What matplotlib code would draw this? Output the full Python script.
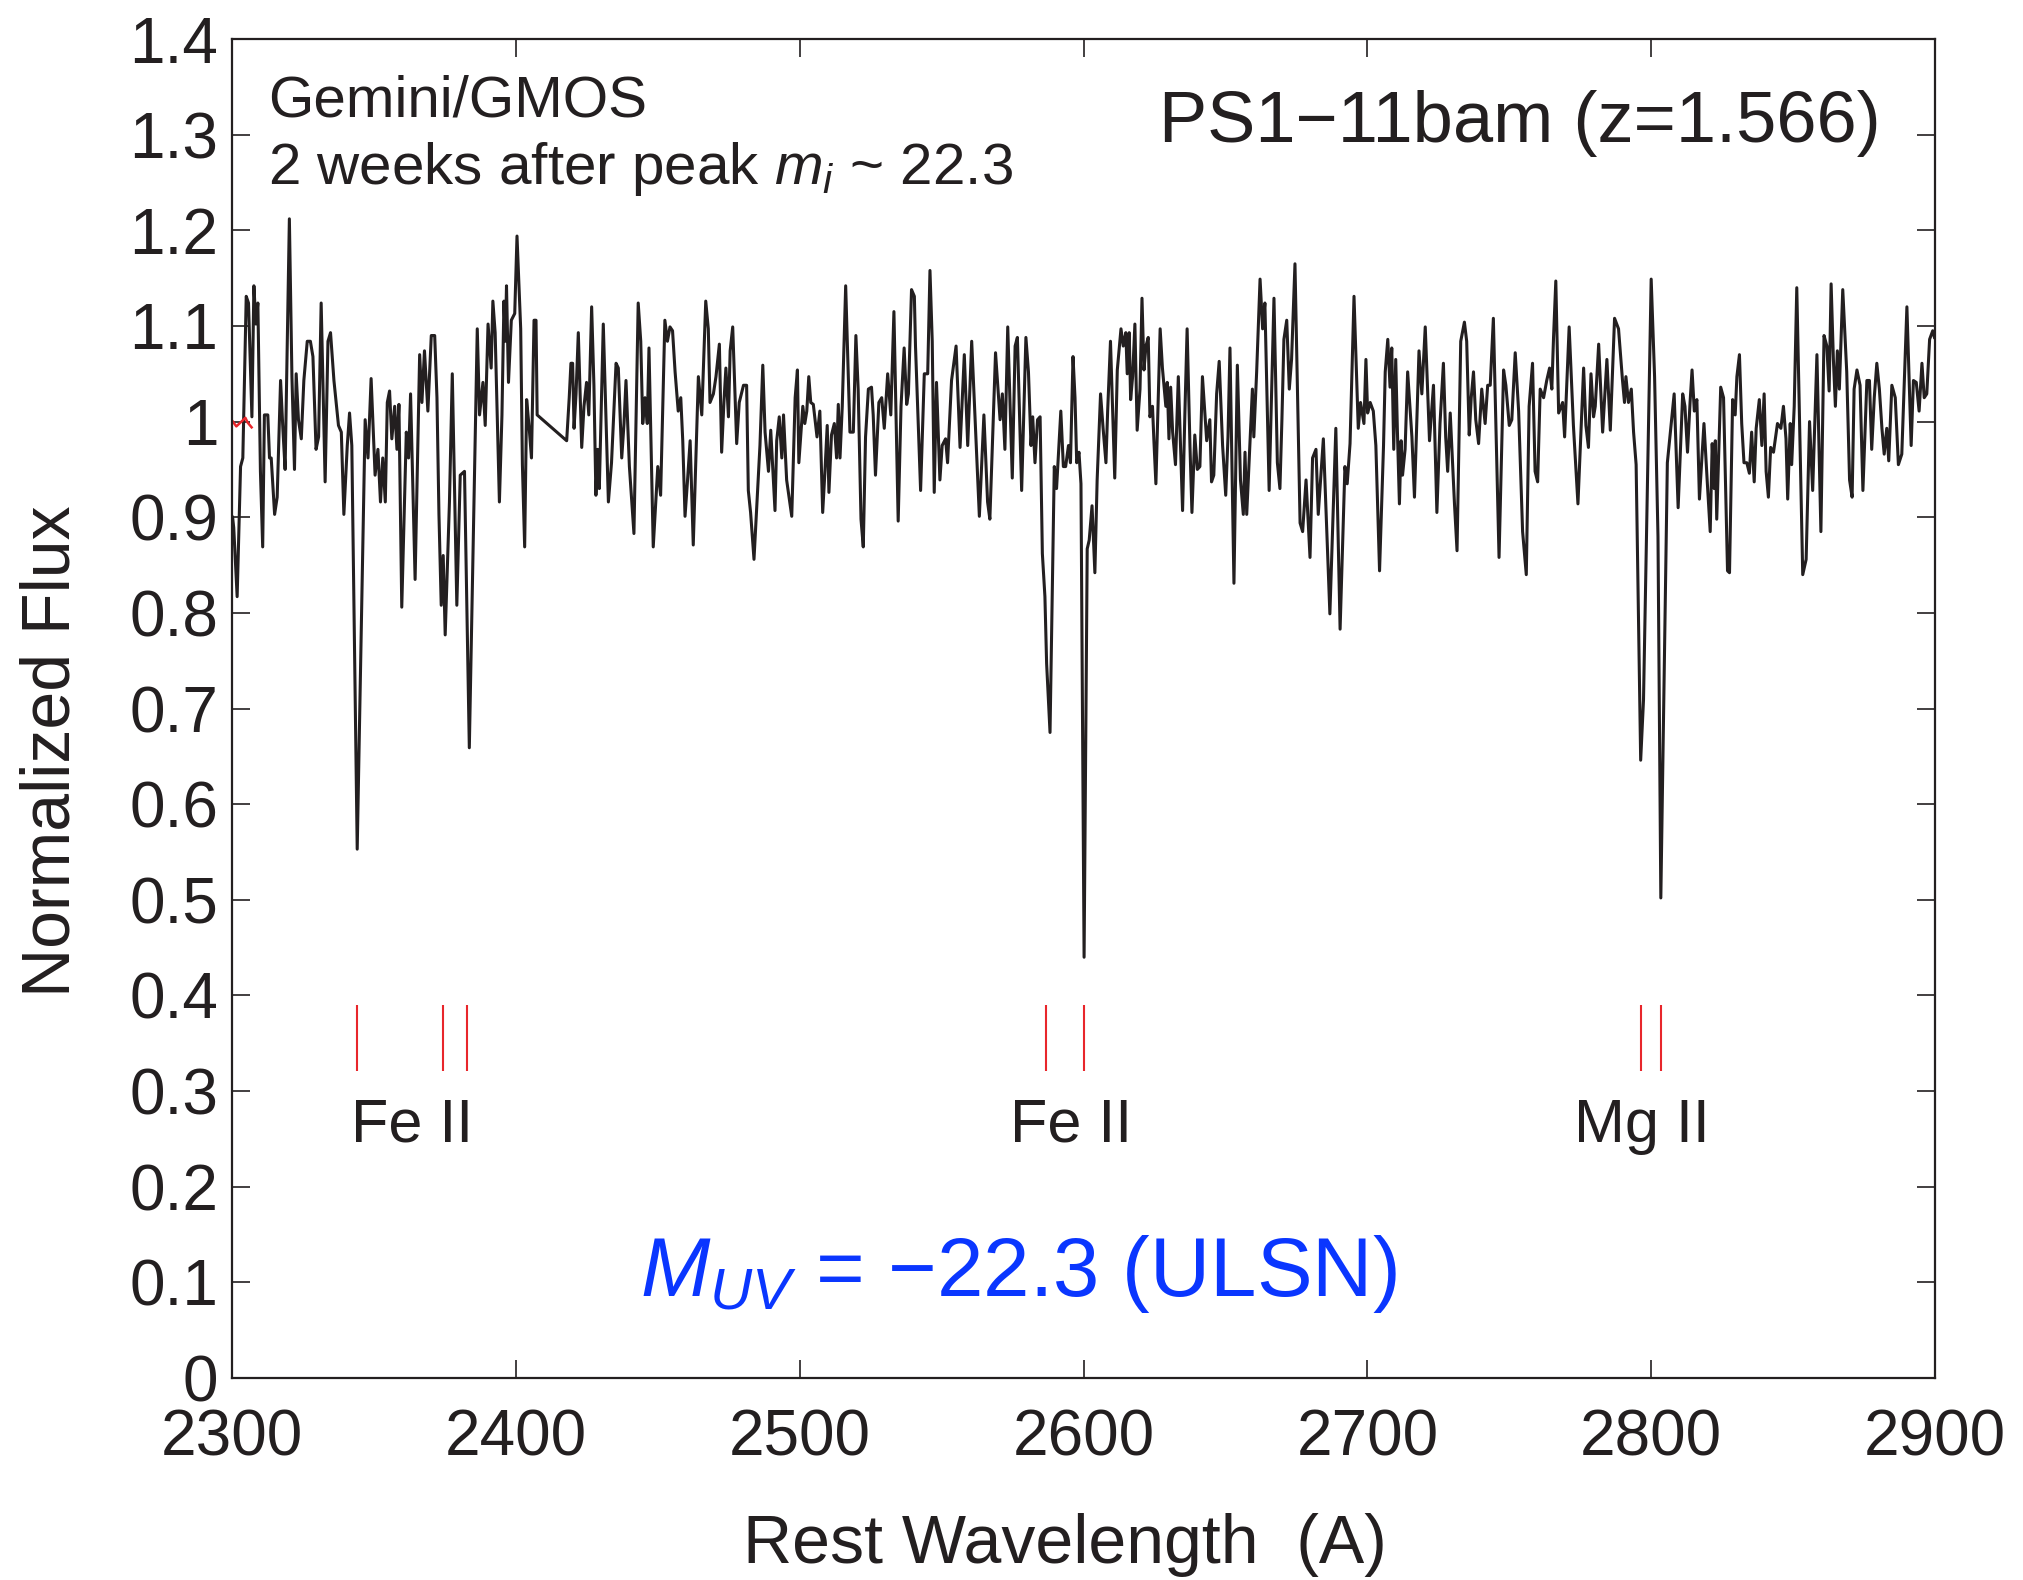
import numpy as np
import matplotlib
matplotlib.use("Agg")
from matplotlib import pyplot as plt

plt.rcParams['font.family'] = ['Liberation Sans', 'DejaVu Sans']
plt.rcParams['mathtext.fontset'] = 'custom'
plt.rcParams['mathtext.rm'] = 'Liberation Sans'
plt.rcParams['mathtext.it'] = 'Liberation Sans:italic'

# spectrum, in 100 A blocks
wave_2300 = [
    2300.2, 2300.6, 2301.8, 2303.0, 2303.8, 2305.0, 2305.8, 2307.0, 2307.7, 2308.4,
    2309.1, 2310.0, 2310.8, 2311.4, 2312.6, 2313.2, 2313.8, 2315.0, 2315.9, 2317.1,
    2317.9, 2318.7, 2320.2, 2321.1, 2322.0, 2322.6, 2323.4, 2324.4, 2325.3, 2326.5,
    2327.6, 2328.5, 2329.6, 2330.5, 2331.4, 2332.8, 2333.8, 2334.7, 2335.9, 2337.5,
    2338.5, 2339.4, 2340.6, 2341.4, 2342.2, 2344.1, 2346.9, 2347.9, 2349.0, 2350.4,
    2351.4, 2352.3, 2353.1, 2354.0, 2354.7, 2355.5, 2356.3, 2357.3, 2358.1, 2358.8,
    2359.8, 2361.4, 2362.2, 2362.9, 2364.5, 2366.1, 2366.9, 2367.8, 2369.0, 2370.2,
    2371.4, 2372.2, 2372.9, 2373.7, 2374.4, 2375.1, 2375.8, 2376.6, 2377.6, 2379.2,
    2380.4, 2381.9, 2383.6, 2386.4, 2387.2, 2388.4, 2389.2, 2390.2, 2391.3, 2391.9,
    2392.7, 2394.2, 2395.1, 2395.8, 2396.3, 2396.7, 2397.4, 2398.4, 2399.6, 2400.4,
    2401.7, 2402.3, 2403.1]
flux_2300 = [
    0.900, 0.889, 0.817, 0.953, 0.962, 1.131, 1.124, 1.005, 1.142, 1.102,
    1.124, 0.948, 0.869, 1.007, 1.007, 0.962, 0.962, 0.903, 0.921, 1.043,
    0.993, 0.950, 1.212, 1.047, 0.950, 1.050, 1.002, 0.982, 1.043, 1.084,
    1.084, 1.068, 0.971, 0.984, 1.124, 0.937, 1.084, 1.093, 1.043, 0.996,
    0.989, 0.903, 0.975, 1.009, 0.975, 0.553, 1.002, 0.962, 1.045, 0.944,
    0.971, 0.916, 0.962, 0.916, 1.020, 1.032, 0.982, 1.016, 0.971, 1.018,
    0.806, 0.989, 0.962, 1.029, 0.835, 1.070, 1.020, 1.074, 1.011, 1.090,
    1.090, 1.025, 0.903, 0.808, 0.860, 0.777, 0.842, 0.916, 1.050, 0.808,
    0.944, 0.948, 0.659, 1.097, 1.007, 1.041, 0.996, 1.102, 1.056, 1.126,
    1.093, 0.916, 1.007, 1.126, 1.084, 1.142, 1.041, 1.106, 1.113, 1.194,
    1.097, 0.955, 0.869]

wave_2400 = [
    2403.8, 2404.7, 2405.5, 2406.4, 2407.1, 2407.5, 2417.9, 2418.8, 2419.4, 2420.0,
    2420.5, 2421.2, 2422.0, 2423.2, 2424.0, 2424.9, 2425.7, 2426.7, 2427.5, 2428.2,
    2428.8, 2429.4, 2430.8, 2432.6, 2433.7, 2435.3, 2436.1, 2437.3, 2438.1, 2438.8,
    2440.0, 2441.6, 2443.1, 2444.0, 2444.7, 2445.5, 2446.3, 2446.9, 2448.4, 2450.0,
    2451.0, 2452.5, 2453.4, 2454.3, 2455.2, 2456.1, 2457.2, 2458.1, 2458.8, 2459.6,
    2460.4, 2461.4, 2462.5, 2464.3, 2465.5, 2466.9, 2467.8, 2468.4, 2469.6, 2470.5,
    2471.7, 2472.5, 2473.3, 2474.0, 2474.9, 2475.5, 2476.4, 2477.8, 2478.7, 2480.2,
    2481.3, 2481.9, 2482.7, 2483.9, 2486.0, 2487.0, 2487.8, 2489.0, 2489.8, 2491.3,
    2491.9, 2492.8, 2493.7, 2494.3, 2495.4, 2497.2, 2498.4, 2499.2]
flux_2400 = [
    1.023, 0.993, 0.962, 1.106, 1.106, 1.007, 0.980, 1.025, 1.061, 1.061,
    0.993, 1.029, 1.093, 0.973, 1.016, 1.041, 1.007, 1.120, 1.038, 0.923,
    0.971, 0.930, 1.102, 0.916, 0.957, 1.061, 1.056, 0.962, 0.998, 1.043,
    0.953, 0.883, 1.124, 1.084, 0.998, 1.025, 0.998, 1.077, 0.869, 0.953,
    0.923, 1.106, 1.084, 1.099, 1.095, 1.052, 1.011, 1.025, 0.980, 0.901,
    0.935, 0.980, 0.871, 1.047, 1.007, 1.126, 1.097, 1.020, 1.029, 1.047,
    1.081, 0.968, 1.020, 1.056, 1.005, 1.074, 1.099, 0.977, 1.020, 1.038,
    1.038, 0.928, 0.905, 0.856, 0.975, 1.059, 0.989, 0.948, 0.991, 0.907,
    0.980, 1.005, 0.962, 1.007, 0.939, 0.901, 1.025, 1.054]

wave_2500 = [
    2499.7, 2501.1, 2501.8, 2502.5, 2503.2, 2503.9, 2504.8, 2505.4, 2506.1, 2507.1,
    2508.1, 2508.9, 2509.7, 2510.3, 2511.2, 2512.2, 2513.0, 2513.6, 2514.2, 2515.0,
    2516.2, 2517.7, 2518.9, 2519.8, 2520.6, 2521.6, 2522.4, 2523.2, 2524.2, 2525.3,
    2525.9, 2526.7, 2527.9, 2528.9, 2529.8, 2531.0, 2532.1, 2533.2, 2534.7, 2535.7,
    2536.8, 2537.7, 2538.3, 2539.4, 2540.4, 2540.8, 2542.6, 2543.9, 2545.1, 2545.9,
    2546.7, 2547.4, 2548.2, 2549.4, 2550.2, 2551.4, 2552.1, 2553.5, 2555.1, 2556.5,
    2558.0, 2559.2, 2560.6, 2561.8, 2563.3, 2564.9, 2566.2, 2567.0, 2569.0, 2570.6,
    2571.4, 2572.3, 2573.3, 2574.9, 2575.9, 2576.7, 2578.2, 2579.7, 2580.6, 2581.5,
    2582.1, 2582.9, 2583.8, 2584.7, 2585.5, 2586.4, 2587.0, 2588.2, 2589.7, 2590.5,
    2592.0, 2592.9, 2593.7, 2594.7, 2595.4, 2596.3, 2597.0, 2597.6, 2598.4, 2599.1,
    2600.2]
flux_2500 = [
    0.957, 1.016, 0.998, 1.011, 1.047, 1.020, 1.018, 1.002, 0.984, 1.011,
    0.905, 0.948, 0.996, 0.926, 0.986, 0.998, 0.962, 1.018, 0.962, 1.016,
    1.142, 0.989, 0.989, 1.090, 1.034, 0.898, 0.869, 0.984, 1.034, 1.036,
    1.007, 0.944, 1.020, 1.025, 0.993, 1.050, 1.007, 1.115, 0.896, 1.016,
    1.077, 1.018, 1.029, 1.138, 1.131, 1.079, 0.928, 1.050, 1.050, 1.158,
    1.084, 0.926, 1.041, 0.939, 0.975, 0.982, 0.957, 1.043, 1.079, 0.973,
    1.070, 0.975, 1.084, 1.002, 0.901, 1.007, 0.916, 0.898, 1.072, 1.002,
    1.029, 0.971, 1.099, 0.941, 1.079, 1.088, 0.928, 1.088, 1.052, 0.975,
    1.005, 0.957, 1.002, 1.005, 0.862, 0.817, 0.747, 0.675, 0.953, 0.930,
    1.011, 0.953, 0.953, 0.975, 0.957, 1.068, 1.025, 0.957, 0.968, 0.935,
    0.440]

wave_2600 = [
    2601.3, 2602.0, 2603.0, 2604.0, 2604.8, 2606.0, 2606.9, 2607.9, 2608.5, 2609.5,
    2611.0, 2611.9, 2613.2, 2614.0, 2614.9, 2615.4, 2616.1, 2616.6, 2617.3, 2618.1,
    2618.9, 2619.9, 2620.6, 2621.3, 2622.0, 2622.8, 2623.4, 2624.3, 2624.8, 2625.5,
    2626.3, 2627.0, 2627.8, 2629.0, 2629.5, 2630.1, 2630.7, 2631.4, 2632.4, 2633.4,
    2634.9, 2635.7, 2636.5, 2637.5, 2638.2, 2639.2, 2640.1, 2641.0, 2641.9, 2643.4,
    2644.5, 2645.1, 2645.9, 2646.9, 2647.8, 2649.0, 2650.1, 2650.9, 2651.6, 2653.0,
    2654.2, 2655.3, 2656.3, 2656.9, 2657.5, 2658.4, 2659.5, 2660.0, 2661.0, 2662.2,
    2663.1, 2663.9, 2665.4, 2667.1, 2668.3, 2669.2, 2669.9, 2670.6, 2671.6, 2672.5,
    2673.3, 2674.5, 2676.3, 2677.2, 2678.4, 2679.8, 2680.7, 2681.9, 2682.7, 2684.5,
    2686.8, 2688.9, 2690.4, 2692.1, 2692.9, 2693.9, 2695.3, 2696.8, 2697.6, 2698.8,
    2699.5]
flux_2600 = [
    0.867, 0.876, 0.912, 0.842, 0.939, 1.029, 0.993, 0.957, 1.011, 1.084,
    0.941, 1.054, 1.097, 1.079, 1.093, 1.050, 1.093, 1.023, 1.047, 1.102,
    0.991, 1.034, 1.129, 1.054, 1.079, 1.088, 1.005, 1.016, 0.980, 0.935,
    1.020, 1.097, 1.056, 1.016, 1.041, 0.982, 1.036, 0.989, 0.955, 1.047,
    0.907, 1.007, 1.097, 0.975, 0.905, 0.986, 0.950, 0.953, 1.047, 0.980,
    1.002, 0.937, 0.944, 1.029, 1.063, 0.975, 0.923, 0.984, 1.077, 0.831,
    1.059, 0.939, 0.903, 0.968, 0.903, 0.962, 1.034, 0.984, 1.052, 1.149,
    1.097, 1.124, 0.928, 1.129, 0.957, 0.930, 1.002, 1.086, 1.106, 1.034,
    1.065, 1.165, 0.894, 0.885, 0.939, 0.858, 0.962, 0.971, 0.903, 0.982,
    0.799, 0.993, 0.783, 0.953, 0.935, 0.977, 1.131, 0.993, 1.020, 0.998,
    1.065]

wave_2700 = [
    2700.1, 2701.0, 2702.1, 2703.0, 2704.3, 2705.7, 2706.3, 2707.2, 2708.0, 2708.6,
    2709.3, 2710.0, 2710.6, 2711.3, 2711.9, 2712.4, 2713.3, 2714.2, 2715.7, 2716.6,
    2718.2, 2719.2, 2720.4, 2721.3, 2721.9, 2723.3, 2724.5, 2725.6, 2726.8, 2727.6,
    2728.3, 2729.2, 2730.0, 2730.7, 2731.6, 2732.9, 2734.2, 2735.0, 2735.9, 2736.6,
    2737.4, 2738.2, 2739.2, 2740.3, 2741.5, 2742.4, 2743.3, 2744.4, 2746.4, 2748.0,
    2748.8, 2750.0, 2750.9, 2752.1, 2753.3, 2754.7, 2756.0, 2757.0, 2758.2, 2759.1,
    2760.0, 2760.9, 2762.1, 2763.2, 2764.2, 2765.0, 2765.6, 2766.4, 2767.4, 2768.8,
    2769.5, 2771.1, 2772.6, 2774.2, 2776.2, 2777.0, 2777.9, 2778.8, 2779.7, 2780.3,
    2781.5, 2782.9, 2784.4, 2785.6, 2787.1, 2788.5, 2789.9, 2790.6, 2791.1, 2792.0,
    2793.0, 2793.8, 2794.7, 2796.3, 2797.3, 2800.0, 2801.2, 2802.4, 2803.4]
flux_2700 = [
    1.009, 1.020, 1.011, 0.975, 0.844, 0.975, 1.052, 1.086, 1.036, 1.077,
    0.971, 1.065, 0.989, 0.914, 0.980, 0.944, 0.971, 1.052, 0.984, 0.921,
    1.074, 1.029, 1.099, 1.029, 0.980, 1.038, 0.905, 0.998, 1.061, 0.984,
    0.948, 1.009, 0.957, 0.914, 0.865, 1.084, 1.104, 1.084, 0.986, 1.025,
    1.052, 1.002, 0.977, 1.034, 0.998, 1.038, 1.038, 1.108, 0.858, 1.054,
    1.038, 0.996, 1.002, 1.072, 1.011, 0.885, 0.840, 1.016, 1.061, 0.948,
    0.937, 1.034, 1.025, 1.043, 1.056, 1.034, 1.088, 1.147, 1.009, 1.020,
    0.984, 1.099, 0.996, 0.914, 1.056, 0.996, 0.973, 1.050, 1.005, 1.016,
    1.081, 0.989, 1.065, 0.991, 1.108, 1.097, 1.043, 1.020, 1.047, 1.020,
    1.034, 0.989, 0.955, 0.646, 0.709, 1.149, 1.047, 0.880, 0.502]

wave_2800 = [
    2805.7, 2806.9, 2808.1, 2809.5, 2811.1, 2811.9, 2812.8, 2813.7, 2814.4, 2815.2,
    2816.1, 2817.0, 2818.6, 2819.8, 2820.8, 2821.5, 2822.2, 2822.6, 2823.1, 2824.5,
    2825.5, 2826.9, 2827.6, 2828.7, 2829.6, 2830.2, 2831.1, 2831.9, 2832.7, 2833.7,
    2834.6, 2835.4, 2836.3, 2837.0, 2838.1, 2839.0, 2839.8, 2840.5, 2841.3, 2842.1,
    2843.1, 2844.5, 2845.7, 2846.6, 2847.5, 2848.1, 2849.0, 2849.5, 2850.4, 2851.3,
    2853.4, 2854.6, 2855.8, 2856.9, 2858.4, 2859.8, 2860.9, 2861.9, 2862.7, 2863.4,
    2864.2, 2864.9, 2865.6, 2866.3, 2867.5, 2868.9, 2869.9, 2870.8, 2871.5, 2872.5,
    2873.6, 2874.6, 2876.0, 2876.9, 2877.7, 2878.6, 2879.5, 2880.4, 2881.3, 2882.1,
    2883.0, 2883.7, 2884.8, 2886.0, 2887.1, 2888.3, 2890.1, 2891.6, 2892.4, 2893.4,
    2894.4, 2895.4, 2896.2, 2897.1, 2898.1, 2899.2, 2899.8]
flux_2800 = [
    0.957, 0.993, 1.029, 0.910, 1.029, 1.016, 0.968, 1.020, 1.054, 1.011,
    1.023, 0.919, 0.998, 0.935, 0.885, 0.977, 0.930, 0.980, 0.898, 1.036,
    1.025, 0.844, 0.842, 1.023, 1.007, 1.047, 1.070, 0.998, 0.957, 0.957,
    0.946, 0.989, 0.937, 0.993, 1.023, 0.975, 1.029, 0.948, 0.921, 0.973,
    0.968, 0.998, 0.993, 1.016, 0.982, 0.919, 0.998, 0.955, 1.016, 1.140,
    0.840, 0.856, 1.000, 0.928, 1.070, 0.885, 1.090, 1.079, 1.032, 1.144,
    1.065, 1.016, 1.074, 1.034, 1.138, 1.052, 0.939, 0.921, 1.034, 1.054,
    1.038, 0.928, 1.043, 1.043, 0.971, 1.025, 1.061, 1.034, 0.993, 0.966,
    0.993, 0.959, 1.038, 1.025, 0.955, 0.966, 1.120, 0.975, 1.043, 1.041,
    1.011, 1.061, 1.025, 1.029, 1.086, 1.095, 1.088]

# little red bit at the blue edge
red_wave = [2300.3, 2301.5, 2302.6, 2304.7, 2305.5, 2306.9]
red_flux = [1.000, 0.995, 0.998, 1.004, 0.999, 0.994]

# absorption line markers
line_wave = [2344.2, 2374.5, 2382.8, 2586.7, 2600.2, 2796.4, 2803.5]
label_names = ['Fe II', 'Fe II', 'Mg II']
label_wave = [2363.6, 2595.7, 2796.8]

xticks = [2300, 2400, 2500, 2600, 2700, 2800, 2900]
yticks = [0, 0.1, 0.2, 0.3, 0.4, 0.5, 0.6, 0.7, 0.8, 0.9, 1.0, 1.1, 1.2, 1.3, 1.4]
ytick_labels = ['0', '0.1', '0.2', '0.3', '0.4', '0.5', '0.6', '0.7', '0.8', '0.9',
                '1', '1.1', '1.2', '1.3', '1.4']

waves = [wave_2300, wave_2400, wave_2500, wave_2600, wave_2700, wave_2800]
fluxes = [flux_2300, flux_2400, flux_2500, flux_2600, flux_2700, flux_2800]
for w, f in zip(waves, fluxes):
    assert len(w) == len(f)
wave = np.concatenate(waves)
flux = np.concatenate(fluxes)

fig = plt.figure(figsize=(20.23, 15.8), dpi=100)
ax = fig.add_axes([0.1147, 0.1278, 0.8418, 0.8475])

ax.plot(wave, flux, color='#231f20', lw=2.2)
ax.plot(red_wave, red_flux, color='#e8262b', lw=1.8)
ax.vlines(line_wave, 0.321, 0.39, colors='#e8262b', lw=1.5)
for name, x in zip(label_names, label_wave):
    ax.text(x, 0.247, name, ha='center', va='baseline', fontsize=44, color='#231f20')

ax.set_xlim(2300, 2900)
ax.set_ylim(0, 1.4)
ax.set_xticks(xticks)
ax.set_yticks(yticks)
ax.set_yticklabels(ytick_labels)
ax.tick_params(direction='in', length=13, width=1.2, top=True, right=True,
               labelsize=46, colors='#231f20')
ax.tick_params(axis='x', pad=22)
ax.tick_params(axis='y', pad=10)
for s in ax.spines.values():
    s.set_linewidth(1.6)
    s.set_color('#231f20')

ax.set_xlabel('Rest Wavelength  (A)', fontsize=49, color='#231f20')
ax.set_ylabel('Normalized Flux', fontsize=49, color='#231f20')
ax.xaxis.set_label_coords(0.489, -0.101)
ax.yaxis.set_label_coords(-0.087, 0.468)

ax.text(0.021, 0.9425, 'Gemini/GMOS', transform=ax.transAxes,
        fontsize=42, va='baseline', color='#231f20')
ax.text(0.021, 0.8917, r'2 weeks after peak $m_i$ ~ 22.3', transform=ax.transAxes,
        fontsize=42, va='baseline', color='#231f20')
ax.text(0.968, 0.923, 'PS1\u221211bam (z=1.566)', transform=ax.transAxes,
        fontsize=52, ha='right', va='baseline', color='#231f20')
ax.text(0.462, 0.061, '$M_{UV}$ = \u221222.3 (ULSN)',
        transform=ax.transAxes, fontsize=60, ha='center', va='baseline', color='#0a36ff')

fig.savefig('out.png', dpi=100)
